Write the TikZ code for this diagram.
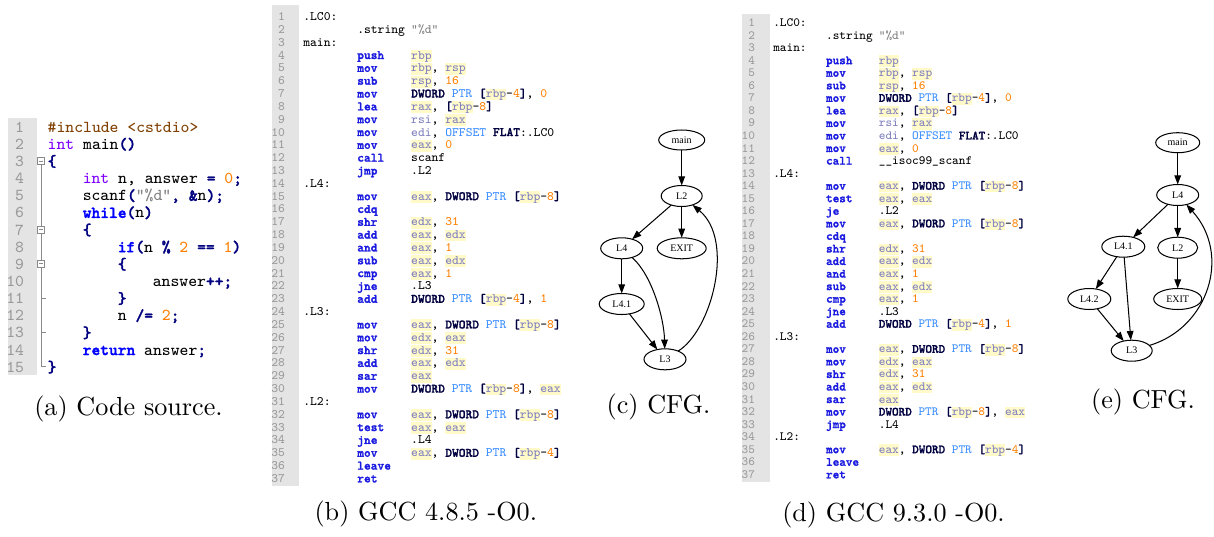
\documentclass[tikz,border=0pt]{standalone}
\usepackage{fontspec}
\newfontfamily\gvfont{Liberation Serif}
\newfontfamily\zbtt{lmmonolt10-bold}[Extension=.otf, FakeBold=1.6]
\usetikzlibrary{shapes.geometric,arrows.meta}
\newlength\zpx \setlength\zpx{0.39pt}
\setlength\fboxsep{0pt}
\definecolor{lnbg}{HTML}{E4E4E4}
\definecolor{lnc}{HTML}{9A9A9A}
\definecolor{cpp}{HTML}{804000}
\definecolor{cty}{HTML}{8000FF}
\definecolor{ckw}{HTML}{0000FF}
\definecolor{cop}{HTML}{000080}
\definecolor{cnum}{HTML}{FF8000}
\definecolor{cstr}{HTML}{808080}
\definecolor{cins}{HTML}{1A1AE0}
\definecolor{creg}{HTML}{8080C0}
\definecolor{hl}{HTML}{FFFAC8}
\definecolor{cdw}{HTML}{000040}
\definecolor{cptr}{HTML}{3A8EFF}
\definecolor{foldc}{HTML}{8A8A8A}
% code (a)
\newcommand\zPp[1]{{\color{cpp}#1}}
\newcommand\zTy[1]{{\color{cty}#1}}
\newcommand\zKw[1]{{\zbtt\color{ckw}#1}}
\newcommand\zOp[1]{{\zbtt\color{cop}#1}}
\newcommand\zNu[1]{{\color{cnum}#1}}
\newcommand\zSt[1]{{\color{cstr}#1}}
% asm
\newcommand\zI[1]{\makebox[4.2em][l]{\zbtt\color{cins}#1}}
\newcommand\zR[1]{\colorbox{hl}{\rule[-0.22em]{0pt}{0.92em}\color{creg}#1}}
\newcommand\zr[1]{{\color{creg}#1}}
\newcommand\zN[1]{{\color{cnum}#1}}
\newcommand\zS[1]{{\color{cstr}#1}}
\newcommand\zDW{{\zbtt\color{cdw}DWORD}}
\newcommand\zPT{{\color{cptr}PTR}}
\newcommand\zOF{{\color{cptr}OFFSET}}
\newcommand\zFL{{\zbtt\color{cdw}FLAT}}
\newcommand\zLB{{\zbtt\color{cdw}[}}
\newcommand\zRB{{\zbtt\color{cdw}]}}
\newcommand\zM[1]{\zDW{} \zPT{} \zLB\zR{rbp}-\zN{#1}\zRB}
\newcommand\zA[2]{\node[codeA] (a#1) at (8,{126.7+(#1-1)*17.14}) {\makebox[16\zpx][r]{\color{lnc}#1}\hspace{23.7\zpx}#2};}
\newcommand\zB[3]{\node[asmB] (b#1) at (270,{15+(#1-1)*12.83}) {\makebox[15\zpx][r]{\color{lnc}#1}\hspace{18.3\zpx}\makebox[4.2em][l]{#2}#3};}
\newcommand\zD[3]{\node[asmD] (d#1) at (740,{21+(#1-1)*12.55}) {\makebox[15\zpx][r]{\color{lnc}#1}\hspace{18.3\zpx}\makebox[4.2em][l]{#2}#3};}
\tikzset{
 every node/.style={inner sep=0pt, outer sep=0pt},
 codeA/.style={anchor=mid west, font=\ttfamily\fontsize{6.51}{7.5}\selectfont},
 asmB/.style={anchor=mid west, font=\ttfamily\fontsize{5.01}{5.8}\selectfont},
 asmD/.style={anchor=mid west, font=\ttfamily\fontsize{4.9}{5.6}\selectfont},
 gvn/.style={ellipse, draw, line width=0.4pt, minimum height=21\zpx, font=\gvfont\fontsize{3.9}{4.5}\selectfont},
 gva/.style={draw, line width=0.4pt, -{Triangle[length=3.6pt,width=2.6pt]}},
 captxt/.style={font=\fontsize{10.2}{12}\selectfont},
 fold/.style={draw=foldc, line width=0.35pt},
}
\begin{document}
\frenchspacing
\begin{tikzpicture}[x=0.39pt,y=-0.39pt]
\fill[white] (0,0) rectangle (1214,536);
\useasboundingbox (0,0) rectangle (1214,536);
% ---------- (a) ----------
\fill[lnbg] (8,118) rectangle (37,375);
\draw[fold] (37.5,157.5) rectangle (44.5,164.5);
\draw[fold] (38.8,161) -- (43.2,161);
\draw[fold] (37.5,226) rectangle (44.5,233);
\draw[fold] (38.8,229.5) -- (43.2,229.5);
\draw[fold] (37.5,260.3) rectangle (44.5,267.3);
\draw[fold] (38.8,263.8) -- (43.2,263.8);
\draw[fold] (41,164.5) -- (41,226);
\draw[fold] (41,233) -- (41,260.3);
\draw[fold] (41,267.3) -- (41,366.7) -- (46,366.7);
\draw[fold] (41,298.1) -- (46,298.1);
\draw[fold] (41,332.4) -- (46,332.4);
\zA{1}{\zPp{\#include <cstdio>}}
\zA{2}{\zTy{int} main\zOp{()}}
\zA{3}{\zOp{\{}}
\zA{4}{\hspace{2.1em}\zTy{int} n, answer \zOp{=} \zNu{0}\zOp{;}}
\zA{5}{\hspace{2.1em}scanf\zOp{(}\zSt{"\%d"}\zOp{,} \zOp{\&}n\zOp{);}}
\zA{6}{\hspace{2.1em}\zKw{while}\zOp{(}n\zOp{)}}
\zA{7}{\hspace{2.1em}\zOp{\{}}
\zA{8}{\hspace{4.2em}\zKw{if}\zOp{(}n \zOp{\%} \zNu{2} \zOp{==} \zNu{1}\zOp{)}}
\zA{9}{\hspace{4.2em}\zOp{\{}}
\zA{10}{\hspace{6.3em}answer\zOp{++;}}
\zA{11}{\hspace{4.2em}\zOp{\}}}
\zA{12}{\hspace{4.2em}n \zOp{/=} \zNu{2}\zOp{;}}
\zA{13}{\hspace{2.1em}\zOp{\}}}
\zA{14}{\hspace{2.1em}\zKw{return} answer\zOp{;}}
\zA{15}{\zOp{\}}}
\node[captxt] (capa) at (128.5,409) {(a) Code source.};
% ---------- (b) ----------
\fill[lnbg] (272,5) rectangle (299,486);
\zB{1}{.LC0:}{}
\zB{2}{}{\makebox[4.2em][l]{.string}\zS{"\%d"}}
\zB{3}{main:}{}
\zB{4}{}{\zI{push}\zR{rbp}}
\zB{5}{}{\zI{mov}\zR{rbp}, \zR{rsp}}
\zB{6}{}{\zI{sub}\zR{rsp}, \zN{16}}
\zB{7}{}{\zI{mov}\zM{4}, \zN{0}}
\zB{8}{}{\zI{lea}\zR{rax}, \zLB\zR{rbp}-\zN{8}\zRB}
\zB{9}{}{\zI{mov}\zr{rsi}, \zR{rax}}
\zB{10}{}{\zI{mov}\zr{edi}, \zOF{} \zFL{}:.LC0}
\zB{11}{}{\zI{mov}\zR{eax}, \zN{0}}
\zB{12}{}{\zI{call}scanf}
\zB{13}{}{\zI{jmp}.L2}
\zB{14}{.L4:}{}
\zB{15}{}{\zI{mov}\zR{eax}, \zM{8}}
\zB{16}{}{\zI{cdq}}
\zB{17}{}{\zI{shr}\zR{edx}, \zN{31}}
\zB{18}{}{\zI{add}\zR{eax}, \zR{edx}}
\zB{19}{}{\zI{and}\zR{eax}, \zN{1}}
\zB{20}{}{\zI{sub}\zR{eax}, \zR{edx}}
\zB{21}{}{\zI{cmp}\zR{eax}, \zN{1}}
\zB{22}{}{\zI{jne}.L3}
\zB{23}{}{\zI{add}\zM{4}, \zN{1}}
\zB{24}{.L3:}{}
\zB{25}{}{\zI{mov}\zR{eax}, \zM{8}}
\zB{26}{}{\zI{mov}\zR{edx}, \zR{eax}}
\zB{27}{}{\zI{shr}\zR{edx}, \zN{31}}
\zB{28}{}{\zI{add}\zR{eax}, \zR{edx}}
\zB{29}{}{\zI{sar}\zR{eax}}
\zB{30}{}{\zI{mov}\zM{8}, \zR{eax}}
\zB{31}{.L2:}{}
\zB{32}{}{\zI{mov}\zR{eax}, \zM{8}}
\zB{33}{}{\zI{test}\zR{eax}, \zR{eax}}
\zB{34}{}{\zI{jne}.L4}
\zB{35}{}{\zI{mov}\zR{eax}, \zM{4}}
\zB{36}{}{\zI{leave}}
\zB{37}{}{\zI{ret}}
\node[captxt] (capb) at (425.8,514) {(b) GCC 4.8.5 -O0.};
% ---------- (c) ----------
\node[gvn, minimum width=46\zpx, minimum height=20\zpx] (cmain) at (681.7,140) {main};
\node[gvn, minimum width=41\zpx] (cL2) at (681.7,196) {L2};
\node[gvn, minimum width=42\zpx] (cL4) at (621.7,248.3) {L4};
\node[gvn, minimum width=49\zpx] (cEXIT) at (681.7,248.3) {EXIT};
\node[gvn, minimum width=45\zpx] (cL41) at (621.7,304) {L4.1};
\node[gvn, minimum width=42\zpx] (cL3) at (665,359.3) {L3};
\draw[gva] (cmain) -- (cL2);
\draw[gva] (cL2) -- (cL4);
\draw[gva] (cL2) -- (cEXIT);
\draw[gva] (cL4) -- (cL41);
\draw[gva] (cL41) -- (cL3);
\draw[gva] (cL4) .. controls (652,275) and (664,318) .. (cL3);
\draw[gva] (cL3) .. controls (712,330) and (735,240) .. (cL2);
\node[captxt] (capc) at (658.5,407) {(c) CFG.};
% ---------- (d) ----------
\fill[lnbg] (742,14) rectangle (770,482);
\zD{1}{.LC0:}{}
\zD{2}{}{\makebox[4.2em][l]{.string}\zS{"\%d"}}
\zD{3}{main:}{}
\zD{4}{}{\zI{push}\zR{rbp}}
\zD{5}{}{\zI{mov}\zR{rbp}, \zR{rsp}}
\zD{6}{}{\zI{sub}\zR{rsp}, \zN{16}}
\zD{7}{}{\zI{mov}\zM{4}, \zN{0}}
\zD{8}{}{\zI{lea}\zR{rax}, \zLB\zR{rbp}-\zN{8}\zRB}
\zD{9}{}{\zI{mov}\zr{rsi}, \zR{rax}}
\zD{10}{}{\zI{mov}\zr{edi}, \zOF{} \zFL{}:.LC0}
\zD{11}{}{\zI{mov}\zR{eax}, \zN{0}}
\zD{12}{}{\zI{call}\_\_isoc99\_scanf}
\zD{13}{.L4:}{}
\zD{14}{}{\zI{mov}\zR{eax}, \zM{8}}
\zD{15}{}{\zI{test}\zR{eax}, \zR{eax}}
\zD{16}{}{\zI{je}.L2}
\zD{17}{}{\zI{mov}\zR{eax}, \zM{8}}
\zD{18}{}{\zI{cdq}}
\zD{19}{}{\zI{shr}\zR{edx}, \zN{31}}
\zD{20}{}{\zI{add}\zR{eax}, \zR{edx}}
\zD{21}{}{\zI{and}\zR{eax}, \zN{1}}
\zD{22}{}{\zI{sub}\zR{eax}, \zR{edx}}
\zD{23}{}{\zI{cmp}\zR{eax}, \zN{1}}
\zD{24}{}{\zI{jne}.L3}
\zD{25}{}{\zI{add}\zM{4}, \zN{1}}
\zD{26}{.L3:}{}
\zD{27}{}{\zI{mov}\zR{eax}, \zM{8}}
\zD{28}{}{\zI{mov}\zR{edx}, \zR{eax}}
\zD{29}{}{\zI{shr}\zR{edx}, \zN{31}}
\zD{30}{}{\zI{add}\zR{eax}, \zR{edx}}
\zD{31}{}{\zI{sar}\zR{eax}}
\zD{32}{}{\zI{mov}\zM{8}, \zR{eax}}
\zD{33}{}{\zI{jmp}.L4}
\zD{34}{.L2:}{}
\zD{35}{}{\zI{mov}\zR{eax}, \zM{4}}
\zD{36}{}{\zI{leave}}
\zD{37}{}{\zI{ret}}
\node[captxt] (capd) at (893.5,515) {(d) GCC 9.3.0 -O0.};
% ---------- (e) ----------
\node[gvn, minimum width=44\zpx, minimum height=20\zpx] (emain) at (1177.7,142.7) {main};
\node[gvn, minimum width=42\zpx] (eL4) at (1177.7,195) {L4};
\node[gvn, minimum width=43\zpx] (eL41) at (1123.3,246.7) {L4.1};
\node[gvn, minimum width=40\zpx] (eL2) at (1177.7,247.7) {L2};
\node[gvn, minimum width=43\zpx] (eL42) at (1089.3,299) {L4.2};
\node[gvn, minimum width=48\zpx] (eEXIT) at (1177.7,299) {EXIT};
\node[gvn, minimum width=41\zpx] (eL3) at (1131.7,350.7) {L3};
\draw[gva] (emain) -- (eL4);
\draw[gva] (eL4) -- (eL41);
\draw[gva] (eL4) -- (eL2);
\draw[gva] (eL41) -- (eL42);
\draw[gva] (eL41) -- (eL3);
\draw[gva] (eL42) -- (eL3);
\draw[gva] (eL2) -- (eEXIT);
\draw[gva] (eL3) .. controls (1208,328) and (1232,255) .. (eL4);
\node[captxt] (cape) at (1143,402) {(e) CFG.};
\end{tikzpicture}
\end{document}
